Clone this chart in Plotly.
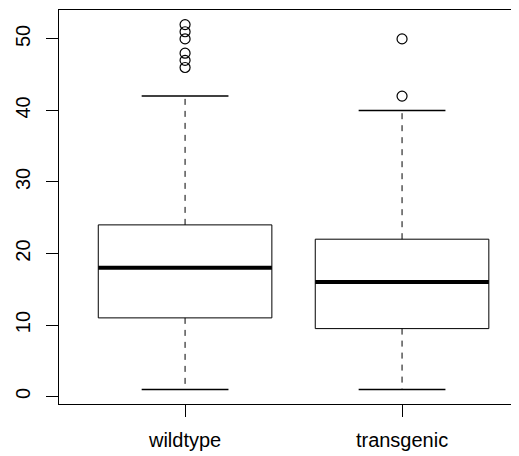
import plotly.graph_objects as go

groups = ["wildtype", "transgenic"]
lower_whisker = [1, 1]
q1 = [11, 9.5]
median = [18, 16]
q3 = [24, 22]
upper_whisker = [42, 40]
outliers = [[46, 47, 48, 50, 51, 52], [42, 50]]

positions = [1, 2]
half_box = 0.4
half_cap = 0.2

fig = go.Figure()
black = "black"

for i, g in enumerate(groups):
    p = positions[i]
    # box
    fig.add_trace(go.Scatter(
        x=[p - half_box, p + half_box, p + half_box, p - half_box, p - half_box],
        y=[q1[i], q1[i], q3[i], q3[i], q1[i]],
        mode="lines", line=dict(color=black, width=1), hoverinfo="skip", showlegend=False))
    # whiskers (dashed)
    fig.add_trace(go.Scatter(
        x=[p, p, None, p, p],
        y=[q3[i], upper_whisker[i], None, q1[i], lower_whisker[i]],
        mode="lines", line=dict(color=black, width=1, dash="6px,6px"),
        hoverinfo="skip", showlegend=False))
    # caps
    fig.add_trace(go.Scatter(
        x=[p - half_cap, p + half_cap, None, p - half_cap, p + half_cap],
        y=[upper_whisker[i], upper_whisker[i], None, lower_whisker[i], lower_whisker[i]],
        mode="lines", line=dict(color=black, width=1.5), hoverinfo="skip", showlegend=False))
    # median
    fig.add_trace(go.Scatter(
        x=[p - half_box, p + half_box], y=[median[i], median[i]],
        mode="lines", line=dict(color=black, width=4), hoverinfo="skip", showlegend=False))
    # outliers
    fig.add_trace(go.Scatter(
        x=[p] * len(outliers[i]), y=outliers[i], mode="markers",
        marker=dict(symbol="circle-open", size=10, color=black, line=dict(width=1.2)),
        showlegend=False))

font = dict(family="Liberation Sans, Arial, sans-serif", size=20, color="black")
# the page body adds an 8px offset, so the figure is sized 8px smaller
fig.update_layout(
    width=511, height=448,
    margin=dict(l=51, r=0, t=2, b=52, autoexpand=False),
    paper_bgcolor="white", plot_bgcolor="white",
    font=font,
    xaxis=dict(range=[0.419, 2.539], tickvals=positions, ticktext=groups,
               ticks="outside", ticklen=12, tickwidth=1, tickcolor=black,
               showline=True, linecolor=black, linewidth=1, mirror=True,
               showgrid=False, zeroline=False, tickfont=font, ticklabelstandoff=6,
               automargin=False),
    yaxis=dict(range=[-1.04, 54.04], tickvals=[0, 10, 20, 30, 40, 50],
               ticks="outside", ticklen=12, tickwidth=1, tickcolor=black,
               showline=True, linecolor=black, linewidth=1, mirror=False,
               showgrid=False, zeroline=False, tickangle=-90, tickfont=font,
               ticklabelstandoff=8, automargin=False),
)

fig.write_html("out.html")
